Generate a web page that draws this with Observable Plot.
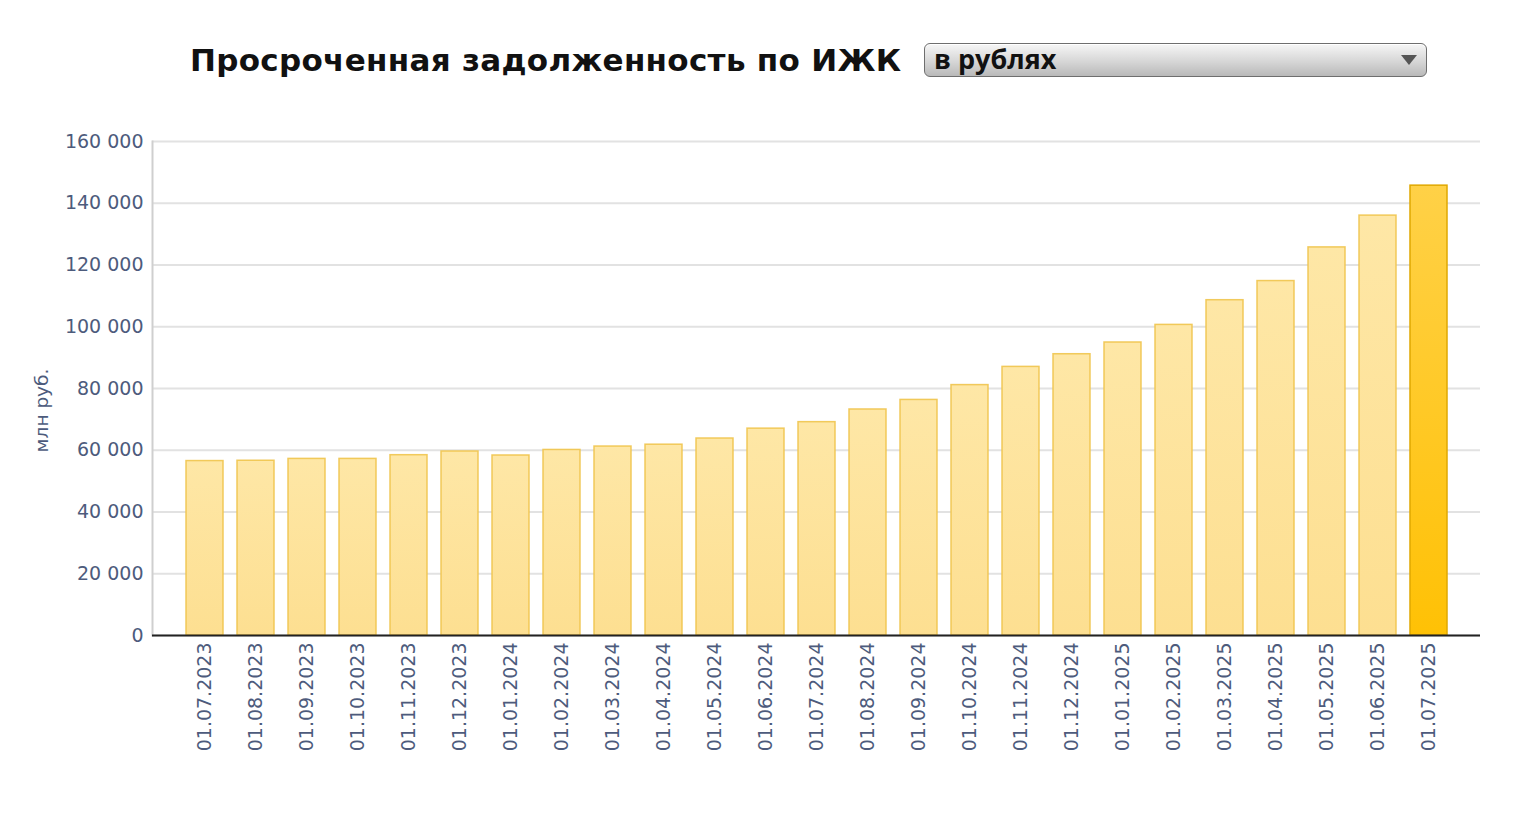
<!DOCTYPE html>
<html>
<head>
<meta charset="utf-8">
<script src="https://cdn.jsdelivr.net/npm/d3@7"></script>
<script src="https://cdn.jsdelivr.net/npm/@observablehq/plot@0.6"></script>
<style>
  html, body { margin: 0; padding: 0; background: #fff; }
  body { width: 1520px; height: 820px; position: relative; overflow: hidden; }
  #title {
    position: absolute; left: 190px; top: 45px;
    font-family: "DejaVu Sans", Verdana, sans-serif; font-weight: bold;
    font-size: 31px; line-height: 31px; color: #111; white-space: nowrap;
    letter-spacing: 0.3px;
  }
  #select {
    position: absolute; left: 924px; top: 43px; width: 501px; height: 32px;
    border: 1px solid #6e6e6e; border-radius: 6px;
    background: linear-gradient(#f6f6f6, #d6d6d6 55%, #b9b9b9);
    box-shadow: inset 0 1px 0 #fff;
  }
  #select span {
    position: absolute; left: 9px; top: -1px;
    font-family: "Open Sans", sans-serif; font-weight: bold; font-size: 27px;
    line-height: 32px; color: #111;
  }
  #select svg { position: absolute; right: 9px; top: 11px; }
  #chart { position: absolute; left: 0; top: 100px; }
</style>
</head>
<body>
<div id="title">Просроченная задолженность по ИЖК</div>
<div id="select"><span>в рублях</span><svg width="16" height="11"><path d="M0,0 L16,0 L8,10 Z" fill="#555"/></svg></div>
<div id="chart"></div>
<script>
const dates = ["01.07.2023","01.08.2023","01.09.2023","01.10.2023","01.11.2023","01.12.2023",
  "01.01.2024","01.02.2024","01.03.2024","01.04.2024","01.05.2024","01.06.2024",
  "01.07.2024","01.08.2024","01.09.2024","01.10.2024","01.11.2024","01.12.2024",
  "01.01.2025","01.02.2025","01.03.2025","01.04.2025","01.05.2025","01.06.2025","01.07.2025"];
const values = [56500, 56600, 57200, 57200, 58400, 59600,
  58300, 60100, 61200, 61800, 63800, 67000,
  69100, 73200, 76300, 81100, 87000, 91100,
  94900, 100600, 108600, 114800, 125700, 136000, 145700];
const yTicks = [0, 20000, 40000, 60000, 80000, 100000, 120000, 140000, 160000];
const yLabel = "млн руб.";

const data = dates.map((d, i) => ({date: d, value: values[i]}));
const last = dates[dates.length - 1];
const fmt = v => d3.format(",")(v).replace(/,/g, " ");
const axisColor = "#4d5b7c";

const chart = Plot.plot({
  width: 1520,
  height: 665,
  marginLeft: 152,
  marginRight: 40,
  marginTop: 41,
  marginBottom: 130,
  style: {fontFamily: "DejaVu Sans, Verdana, sans-serif", fontSize: "18px", background: "white", overflow: "visible"},
  x: {type: "band", domain: dates, paddingInner: 0.28, paddingOuter: 0.65},
  y: {domain: [0, 160000]},
  marks: [
    Plot.gridY(yTicks, {stroke: "#e2e2e2", strokeOpacity: 1, strokeWidth: 2}),
    Plot.frame({anchor: "left", stroke: "#cfcfcf", strokeWidth: 2}),
    Plot.barY(data.filter(d => d.date !== last), {x: "date", y: "value", fill: "url(#gLight)", stroke: "#efc44c", strokeWidth: 1.5, strokeOpacity: 0.9, inset: 0}),
    Plot.barY(data.filter(d => d.date === last), {x: "date", y: "value", fill: "url(#gDark)", stroke: "#e0a800", strokeWidth: 1.5, inset: 0}),
    Plot.ruleY([0], {stroke: "#222", strokeWidth: 2}),
    Plot.axisY(yTicks, {tickFormat: fmt, tickSize: 0, tickPadding: 9, label: null, fill: axisColor, fontSize: 19}),
    Plot.axisX({tickRotate: -90, tickSize: 0, tickPadding: 7, label: null, fill: axisColor, fontSize: 19}),
    Plot.text([yLabel], {frameAnchor: "left", textAnchor: "middle", dx: -110, dy: 22, rotate: -90, fill: axisColor, fontSize: 18.5})
  ]
});

const svg = d3.select(chart);
const defs = svg.insert("defs", ":first-child");
const gl = defs.append("linearGradient").attr("id", "gLight").attr("x1", 0).attr("y1", 0).attr("x2", 0).attr("y2", 1);
gl.append("stop").attr("offset", "0%").attr("stop-color", "#fee7a6");
gl.append("stop").attr("offset", "100%").attr("stop-color", "#fddf91");
const gd = defs.append("linearGradient").attr("id", "gDark").attr("x1", 0).attr("y1", 0).attr("x2", 0).attr("y2", 1);
gd.append("stop").attr("offset", "0%").attr("stop-color", "#ffd147");
gd.append("stop").attr("offset", "100%").attr("stop-color", "#ffc105");

document.getElementById("chart").appendChild(chart);
</script>
</body>
</html>
